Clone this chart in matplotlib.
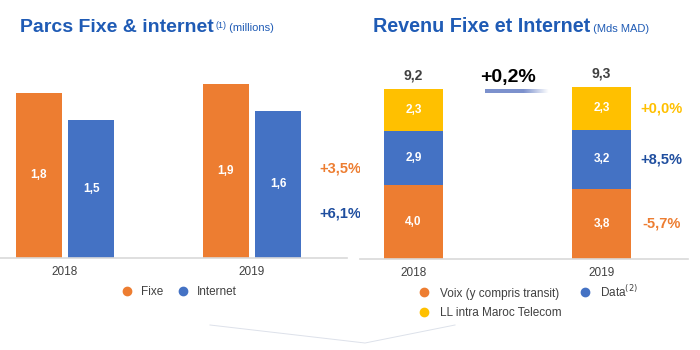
import matplotlib.pyplot as plt
import numpy as np
from matplotlib.lines import Line2D

plt.rcParams['font.family'] = ['Liberation Sans', 'DejaVu Sans']

# data
years = ['2018', '2019']
fixe = [1.8, 1.9]
internet = [1.5, 1.6]
fixe_lbl = ['1,8', '1,9']
internet_lbl = ['1,5', '1,6']
parcs_growth = ['+3,5%', '+6,1%']

voix = [4.0, 3.8]
data = [2.9, 3.2]
ll = [2.3, 2.3]
voix_lbl = ['4,0', '3,8']
data_lbl = ['2,9', '3,2']
ll_lbl = ['2,3', '2,3']
totals = ['9,2', '9,3']
rev_growth = ['-5,7%', '+8,5%', '+0,0%']
total_growth = '+0,2%'

ORANGE = '#ED7D31'
BLUE = '#4472C4'
YELLOW = '#FFC000'
TITLE = '#1F5BB5'
DARKBLUE = '#1F4E9F'

W, H = 700, 350


def px_axes(fig, x0, x1, ytop, ybot):
    return fig.add_axes([x0 / W, 1 - ybot / H, (x1 - x0) / W, (ybot - ytop) / H])


def style(ax):
    for s in ['top', 'right', 'left']:
        ax.spines[s].set_visible(False)
    ax.spines['bottom'].set_color('#d9d9d9')
    ax.spines['bottom'].set_linewidth(1.2)
    ax.set_yticks([])
    ax.tick_params(axis='x', length=0, pad=6, labelsize=8.5, labelcolor='#404040')


fig = plt.figure(figsize=(7, 3.5), dpi=100)

# ---- left: parcs
ax1 = px_axes(fig, 0, 347, 60, 257.7)
style(ax1)
x = np.arange(len(years))
off = 0.14
bw = 0.246
ax1.bar(x - off, fixe, bw, color=ORANGE, label='Fixe')
ax1.bar(x + off, internet, bw, color=BLUE, label='Internet')
for i in range(len(years)):
    ax1.text(x[i] - off, fixe[i] / 2, fixe_lbl[i], ha='center', va='center',
             color='white', fontsize=8.5, fontweight='bold')
    ax1.text(x[i] + off, internet[i] / 2, internet_lbl[i], ha='center', va='center',
             color='white', fontsize=8.5, fontweight='bold')
ax1.text(1.47, 0.97, parcs_growth[0], ha='center', va='center', color=ORANGE,
         fontsize=10.5, fontweight='bold', clip_on=False)
ax1.text(1.47, 0.48, parcs_growth[1], ha='center', va='center', color=DARKBLUE,
         fontsize=10.5, fontweight='bold', clip_on=False)
ax1.set_xlim(-0.348, 1.508)
ax1.set_ylim(0, 2.16)
ax1.set_xticks(x, years)
ax1.legend(handles=[Line2D([], [], marker='o', ls='', color=ORANGE, ms=6, label='Fixe'),
                    Line2D([], [], marker='o', ls='', color=BLUE, ms=6, label='Internet')],
           loc='center', bbox_to_anchor=(176 / W, 1 - 292 / H), bbox_transform=fig.transFigure,
           ncol=2, frameon=False, fontsize=8.5, handletextpad=0.2, columnspacing=0.7,
           labelcolor='#404040')

# ---- right: revenu
ax2 = px_axes(fig, 360, 688, 60, 259)
style(ax2)
bw2 = 0.314
b1 = np.array(voix)
b2 = b1 + np.array(data)
ax2.bar(x, voix, bw2, color=ORANGE)
ax2.bar(x, data, bw2, bottom=b1, color=BLUE)
ax2.bar(x, ll, bw2, bottom=b2, color=YELLOW)
for i in range(len(years)):
    ax2.text(x[i], voix[i] / 2, voix_lbl[i], ha='center', va='center',
             color='white', fontsize=8.5, fontweight='bold')
    ax2.text(x[i], b1[i] + data[i] / 2, data_lbl[i], ha='center', va='center',
             color='white', fontsize=8.5, fontweight='bold')
    ax2.text(x[i], b2[i] + ll[i] / 2, ll_lbl[i], ha='center', va='center',
             color='white', fontsize=8.5, fontweight='bold')
    ax2.text(x[i], b2[i] + ll[i] + 0.35, totals[i], ha='center', va='bottom',
             color='#404040', fontsize=10, fontweight='bold')
ax2.text(1.32, voix[1] / 2, rev_growth[0], ha='center', va='center', color=ORANGE,
         fontsize=10.5, fontweight='bold', clip_on=False)
ax2.text(1.32, b1[1] + data[1] / 2, rev_growth[1], ha='center', va='center', color=DARKBLUE,
         fontsize=10.5, fontweight='bold', clip_on=False)
ax2.text(1.32, b2[1] + ll[1] / 2, rev_growth[2], ha='center', va='center', color=YELLOW,
         fontsize=10.5, fontweight='bold', clip_on=False)
ax2.text(0.5, b2[1] + ll[1] + 0.5, total_growth, ha='center', va='center', color='black',
         fontsize=14, fontweight='bold')
ax2.set_xlim(-0.285, 1.46)
ax2.set_ylim(0, 10.76)
ax2.set_xticks(x, years)
ax2.legend(handles=[Line2D([], [], marker='o', ls='', color=ORANGE, ms=6, label='Voix (y compris transit)'),
                    Line2D([], [], marker='o', ls='', color=YELLOW, ms=6, label='LL intra Maroc Telecom'),
                    Line2D([], [], marker='o', ls='', color=BLUE, ms=6, label='Data$^{(2)}$')],
           loc='upper left', bbox_to_anchor=(402 / W, 1 - 273 / H), bbox_transform=fig.transFigure,
           ncol=2, frameon=False, fontsize=8.5, handletextpad=0.3, columnspacing=1.0,
           labelspacing=0.65, labelcolor='#404040')

# gradient underline below +0,2%
gax = fig.add_axes([485 / W, 1 - 93 / H, 64 / W, 4 / H])
grad = np.zeros((1, 100, 4))
grad[..., 0] = 0x44 / 255
grad[..., 1] = 0x62 / 255
grad[..., 2] = 0xB8 / 255
grad[..., 3] = np.concatenate([np.linspace(0.7, 0.7, 60), np.linspace(0.7, 0.0, 40)])
gax.imshow(grad, aspect='auto')
gax.axis('off')

# titles
t1 = fig.text(20 / W, 1 - 27 / H, 'Parcs Fixe & internet', color=TITLE, fontsize=14,
              fontweight='bold', va='center')
s1 = fig.text(0, 0, '(1)', color=TITLE, fontsize=6.5)
m1 = fig.text(0, 0, ' (millions)', color=TITLE, fontsize=8)
t2 = fig.text(373 / W, 1 - 27 / H, 'Revenu Fixe et Internet', color=TITLE, fontsize=14.2,
              fontweight='bold', va='center')
m2 = fig.text(0, 0, ' (Mds MAD)', color=TITLE, fontsize=8)

fig.canvas.draw()
r = fig.canvas.get_renderer()
inv = fig.transFigure.inverted()
bb = t1.get_window_extent(r)
(x1e, y1b), (x1e2, y1t) = inv.transform([[bb.x1, bb.y0], [bb.x1, bb.y1]])
s1.set_position((x1e + 0.002, y1t - 0.026))
bb = s1.get_window_extent(r)
xs = inv.transform([[bb.x1, bb.y0]])[0][0]
m1.set_position((xs, y1b + 0.012))
bb = t2.get_window_extent(r)
(x2e, y2b) = inv.transform([[bb.x1, bb.y0]])[0]
m2.set_position((x2e, y2b + 0.012))

# decorative line at the bottom
fig.add_artist(Line2D([210 / W, 365 / W, 455 / W], [1 - 325 / H, 1 - 343 / H, 1 - 325 / H],
                      color='#dde1ea', lw=0.7))

fig.savefig('out.png', dpi=100)
